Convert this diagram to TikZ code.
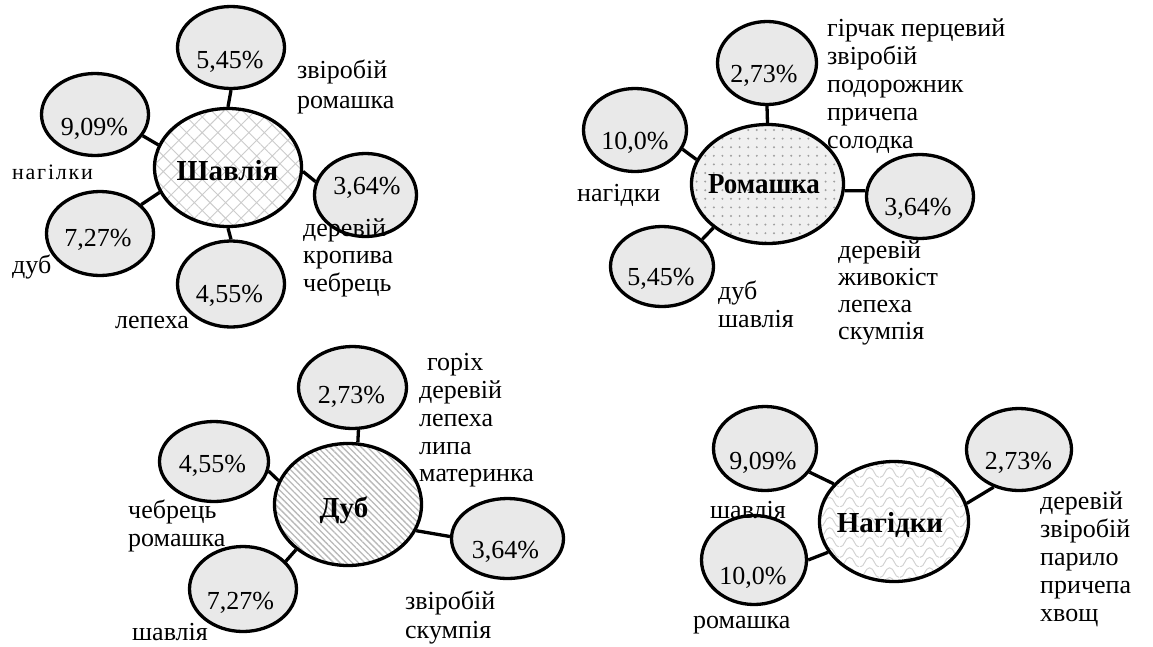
\documentclass[tikz,border=0pt]{standalone}
\usepackage{fontspec}
\usepackage{graphicx}
\setmainfont{Liberation Serif}
\usetikzlibrary{shapes.geometric,patterns,patterns.meta}

\tikzdeclarepattern{
  name=netwave,
  type=uncolored,
  bounding box={(0pt,0pt) and (20pt,20pt)},
  tile size={(20pt,20pt)},
  code={
    \draw[line width=1pt] (0pt,0pt) .. controls (5pt,0pt) and (5pt,10pt) .. (10pt,10pt) .. controls (15pt,10pt) and (15pt,0pt) .. (20pt,0pt);
    \draw[line width=1pt] (0pt,10pt) .. controls (5pt,10pt) and (5pt,20pt) .. (10pt,20pt) .. controls (15pt,20pt) and (15pt,10pt) .. (20pt,10pt);
  }
}

\begin{document}
\begin{tikzpicture}[x=1pt,y=-1pt,
  sm/.style={ellipse, draw, line width=3.3pt, fill=gray!17, inner sep=0pt},
  big/.style={ellipse, draw, line width=3.3pt, inner sep=0pt},
  pct/.style={font=\fontsize{26}{28}\selectfont, anchor=base, inner sep=0pt},
  ttl/.style={font=\fontsize{29}{30}\selectfont\bfseries, anchor=base, inner sep=0pt},
  lbl/.style={font=\fontsize{26}{28}\selectfont, align=left, anchor=west, inner sep=0pt},
  con/.style={line width=3.3pt},
  fillsh/.style={preaction={fill=white}, preaction={pattern={Hatch[angle=45,distance=11pt,line width=0.9pt]}, pattern color=gray!40}},
  fillrom/.style={preaction={fill=gray!12}, preaction={pattern={Dots[distance=8.6pt,radius=1.1pt]}, pattern color=gray!75}},
  filldub/.style={preaction={fill=white}, preaction={pattern={Lines[angle=-45,distance=4.4pt,line width=1.3pt]}, pattern color=gray!55}},
  fillnag/.style={preaction={fill=white}, preaction={pattern=netwave, pattern color=gray!35}}]
\useasboundingbox (0,0) rectangle (1153,646);

% ---------- cluster 1: Шавлія ----------
\node[big, fillsh, minimum width=147pt, minimum height=118pt] (sh) at (228,167.5) {};
\node[sm, minimum width=107pt, minimum height=82pt] (s545) at (231,47.5) {};
\node[sm, minimum width=107pt, minimum height=82pt] (s909) at (95,114.5) {};
\node[sm, minimum width=102pt, minimum height=83pt] (s364) at (365.5,195) {};
\node[sm, minimum width=107pt, minimum height=86pt] (s455) at (231,284) {};
\node[sm, minimum width=107pt, minimum height=84pt] (s727) at (100,233.5) {};
\draw[con] (s545.south) -- (sh.north);
\draw[con] (s909.-24) -- (sh.162);
\draw[con] (sh.-3) -- (s364.165);
\draw[con] (sh.south) -- (s455.north);
\draw[con] (s727.35) -- (sh.200);
\node[ttl] (tsh) at (227.5,180) {Шавлія};
\node[pct] (p1a) at (230,68) {5,45\%};
\node[pct] (p1b) at (94.5,135) {9,09\%};
\node[pct] (p1c) at (367,194) {3,64\%};
\node[pct] (p1d) at (229.5,302) {4,55\%};
\node[pct] (p1e) at (98,246) {7,27\%};
\node[lbl, font=\fontsize{26}{30}\selectfont] (l1a) at (297,87) {звіробій\\ромашка};
\node[lbl, font=\fontsize{22}{24}\selectfont\addfontfeature{LetterSpace=8}] (l1b) at (12,172) {нагілки};
\node[lbl] (l1c) at (12,267) {дуб};
\node[lbl] (l1d) at (115,322) {лепеха};
\node[lbl, font=\fontsize{26}{27.5}\selectfont] (l1e) at (303,257.5) {деревій\\кропива\\чебрець};

% ---------- cluster 2: Ромашка ----------
\node[big, fillrom, minimum width=152pt, minimum height=119pt] (rom) at (767.5,184) {};
\node[sm, minimum width=99pt, minimum height=83pt] (r273) at (767,63) {};
\node[sm, minimum width=103pt, minimum height=83pt] (r100) at (635,130) {};
\node[sm, minimum width=107pt, minimum height=84pt] (r364) at (920,196.5) {};
\node[sm, minimum width=103pt, minimum height=80pt] (r545) at (662,266.5) {};
\draw[con] (r273.south) -- (rom.north);
\draw[con] (r100.-22) -- (rom.161);
\draw[con] (rom.-5) -- (r364.174);
\draw[con] (r545.34) -- (rom.219);
\node[ttl] (trom) at (764,193) {\scalebox{0.93}[1]{Ромашка}};
\node[pct] (p2a) at (764,82.5) {2,73\%};
\node[pct] (p2b) at (635,149) {10,0\%};
\node[pct] (p2c) at (918,215.5) {3,64\%};
\node[pct] (p2d) at (661,285.5) {5,45\%};
\node[lbl] (l2a) at (827,86) {гірчак перцевий\\звіробій\\подорожник\\причепа\\солодка};
\node[lbl] (l2b) at (577,195) {нагідки};
\node[lbl] (l2c) at (718,304) {дуб\\шавлія};
\node[lbl, font=\fontsize{26}{27}\selectfont] (l2d) at (838,292.5) {деревій\\живокіст\\лепеха\\скумпія};

% ---------- cluster 3: Дуб ----------
\node[big, filldub, minimum width=147pt, minimum height=122pt] (dub) at (348,504.5) {};
\node[sm, minimum width=108pt, minimum height=82pt] (d273) at (352.5,387.5) {};
\node[sm, minimum width=109pt, minimum height=80pt] (d455) at (214,461.5) {};
\node[sm, minimum width=112pt, minimum height=80pt] (d364) at (507.5,538.5) {};
\node[sm, minimum width=107pt, minimum height=85pt] (d727) at (243,589) {};
\draw[con] (d273.-82) -- (dub.81);
\draw[con] (d455.-10) -- (dub.161);
\draw[con] (dub.-21) -- (d364.178);
\draw[con] (d727.33) -- (dub.221);
\node[ttl] (tdub) at (344,517) {Дуб};
\node[pct] (p3a) at (351.5,403) {2,73\%};
\node[pct] (p3b) at (212.5,472) {4,55\%};
\node[pct] (p3c) at (505.5,558) {3,64\%};
\node[pct] (p3d) at (240.5,609) {7,27\%};
\node[lbl, font=\fontsize{26}{27.75}\selectfont] (l3a) at (419,420.5) {\hspace*{8pt}горіх\\деревій\\лепеха\\липа\\материнка};
\node[lbl] (l3b) at (128,526) {чебрець\\ромашка};
\node[lbl] (l3c) at (132,632) {шавлія};
\node[lbl, font=\fontsize{26}{29}\selectfont] (l3d) at (405,617.5) {звіробій\\скумпія};

% ---------- cluster 4: Нагідки ----------
\node[big, fillnag, minimum width=149pt, minimum height=120pt] (nag) at (894,521.5) {};
\node[sm, minimum width=103pt, minimum height=84pt] (n909) at (765,448.5) {};
\node[sm, minimum width=105pt, minimum height=82pt] (n273) at (1019,449.5) {};
\node[sm, minimum width=105pt, minimum height=89pt] (n100) at (754,560) {};
\draw[con] (n909.-28) -- (nag.148);
\draw[con] (n100.0) -- (nag.205);
\draw[con] (nag.14) -- (n273.236);
\node[ttl] (tnag) at (890,532) {Нагідки};
\node[pct] (p4a) at (763,469) {9,09\%};
\node[pct] (p4b) at (1018.5,469) {2,73\%};
\node[pct] (p4c) at (753,584) {10,0\%};
\node[lbl] (l4a) at (710,510) {шавлія};
\node[lbl] (l4b) at (693,625) {ромашка};
\node[lbl] (l4c) at (1040,559) {деревій\\звіробій\\парило\\причепа\\хвощ};
\end{tikzpicture}
\end{document}
